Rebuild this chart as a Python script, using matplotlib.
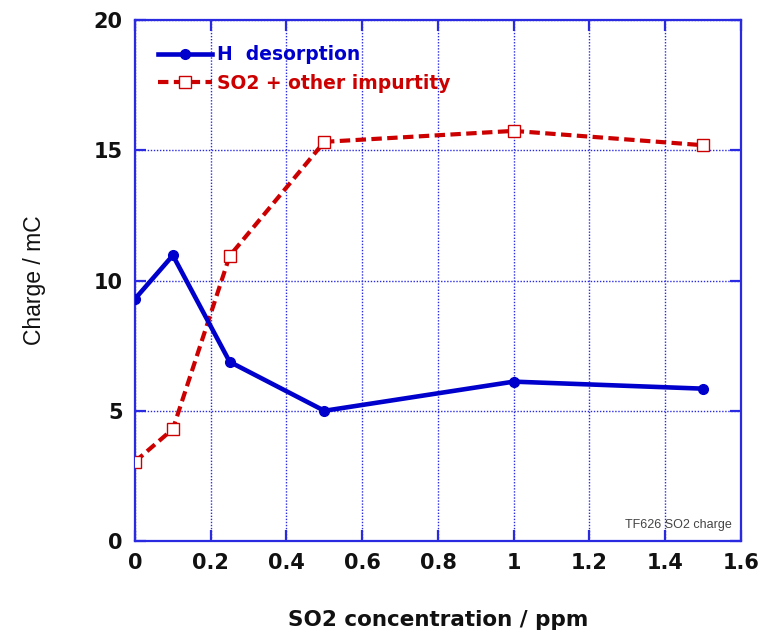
import matplotlib
matplotlib.use("Agg")
import matplotlib.pyplot as plt

conc = [0, 0.1, 0.25, 0.5, 1.0, 1.5]
h_desorption = [9.3, 10.97, 6.88, 5.0, 6.12, 5.85]
so2_impurity = [3.05, 4.3, 10.95, 15.33, 15.75, 15.2]

x_ticks = [0, 0.2, 0.4, 0.6, 0.8, 1.0, 1.2, 1.4, 1.6]
x_tick_labels = ["0", "0.2", "0.4", "0.6", "0.8", "1", "1.2", "1.4", "1.6"]
y_ticks = [0, 5, 10, 15, 20]

BLUE = "#0000CC"
AXBLUE = "#2a2ae0"
RED = "#CC0000"
DV = ["DejaVu Sans"]
SANS = ["Liberation Sans", "DejaVu Sans"]

fig = plt.figure(figsize=(7.65, 6.32), dpi=100)
ax = fig.add_axes([0.1765, 0.144, 0.792, 0.824])

ax.plot(conc, h_desorption, color=BLUE, lw=3.3, marker="o", ms=7,
        markerfacecolor=BLUE, markeredgecolor=BLUE, label="H  desorption",
        solid_joinstyle="round", zorder=4)
ax.plot(conc, so2_impurity, color=RED, lw=3.0, ls=(0, (2.5, 1.3)), marker="s",
        ms=9, markerfacecolor="white", markeredgecolor=RED, markeredgewidth=1.0,
        label="SO2 + other impurtity", zorder=3)

ax.set_xlim(0, 1.6)
ax.set_ylim(0, 20)
ax.set_xticks(x_ticks)
ax.set_xticklabels(x_tick_labels)
ax.set_yticks(y_ticks)

ax.grid(True, color=AXBLUE, ls=(0, (1, 1.2)), lw=1.0)
ax.set_axisbelow(True)
for s in ax.spines.values():
    s.set_color(AXBLUE)
    s.set_linewidth(1.6)
ax.tick_params(direction="in", length=8, width=1.6, color=AXBLUE,
               top=True, right=True, labelsize=15, pad=9)
for lab in ax.get_xticklabels() + ax.get_yticklabels():
    lab.set_family(DV)
    lab.set_fontweight("bold")
    lab.set_color("#111111")

ax.set_xlabel("SO2 concentration / ppm", fontsize=15.5, family=DV,
              fontweight="bold", labelpad=26, color="#111111")
ax.set_ylabel("Charge / mC", fontsize=16.5, family=SANS, labelpad=34,
              color="#111111")

leg = ax.legend(loc="upper left", frameon=False, handlelength=2.9,
                handletextpad=0.25, labelspacing=0.5, borderaxespad=0.8,
                prop={"family": DV, "weight": "bold", "size": 13.5},
                labelcolor="linecolor", bbox_to_anchor=(0.0, 0.995))

ax.text(0.985, 0.02, "TF626 SO2 charge", transform=ax.transAxes, ha="right",
        va="bottom", fontsize=9, family=SANS, color="#444444")

fig.savefig("out.png", dpi=100)
